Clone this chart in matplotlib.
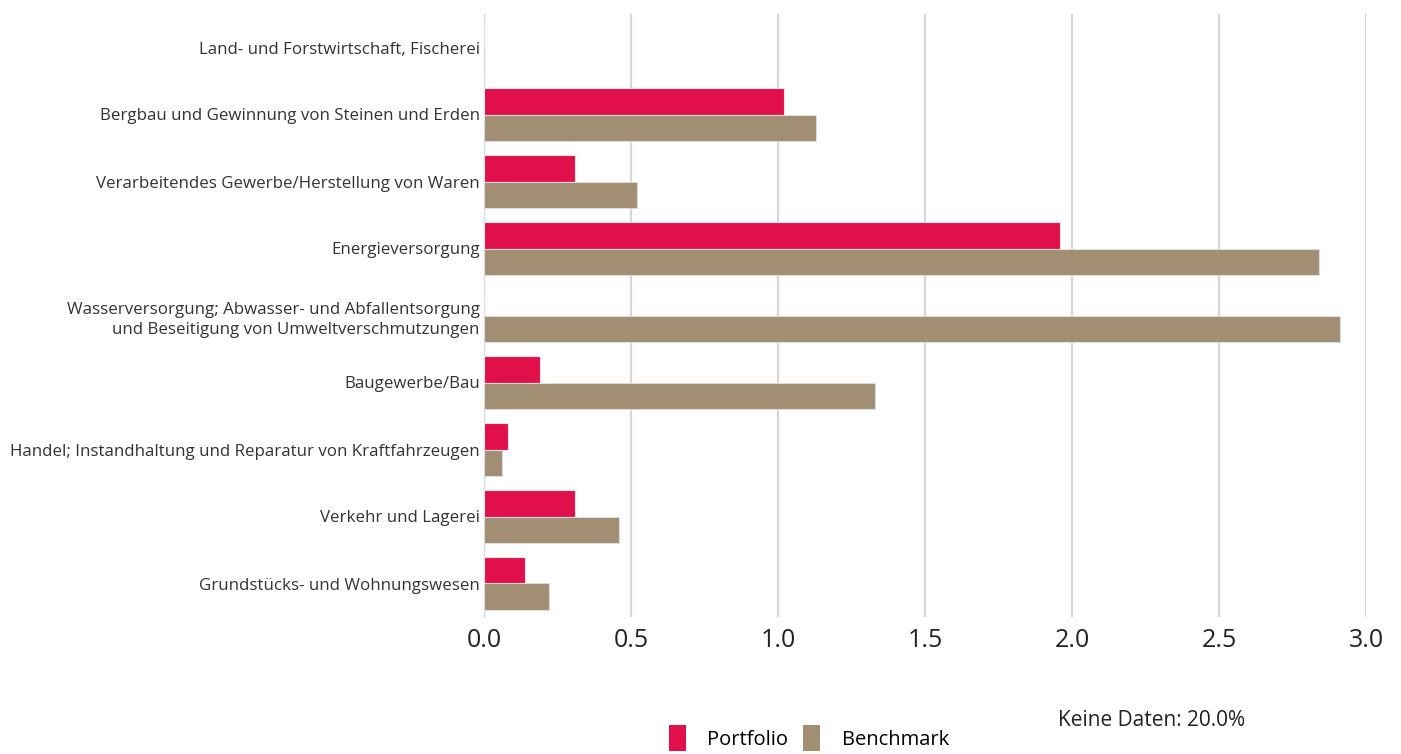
import numpy as np
import matplotlib
matplotlib.use('Agg')
import matplotlib.pyplot as plt
from matplotlib.patches import Patch

plt.rcParams['font.family'] = ['Open Sans', 'DejaVu Sans']

categories = [
    'Land- und Forstwirtschaft, Fischerei',
    'Bergbau und Gewinnung von Steinen und Erden',
    'Verarbeitendes Gewerbe/Herstellung von Waren',
    'Energieversorgung',
    'Wasserversorgung; Abwasser- und Abfallentsorgung\nund Beseitigung von Umweltverschmutzungen',
    'Baugewerbe/Bau',
    'Handel; Instandhaltung und Reparatur von Kraftfahrzeugen',
    'Verkehr und Lagerei',
    'Grundstücks- und Wohnungswesen',
]
portfolio = [0.0, 1.02, 0.31, 1.96, 0.0, 0.19, 0.08, 0.31, 0.14]
benchmark = [0.0, 1.13, 0.52, 2.84, 2.91, 1.33, 0.06, 0.46, 0.22]
xticks = [0.0, 0.5, 1.0, 1.5, 2.0, 2.5, 3.0]
no_data_text = 'Keine Daten: 20.0%'

RED = '#E2104A'
TAN = '#A28F73'

fig = plt.figure(figsize=(14.01, 7.54), dpi=100)
ax = fig.add_axes([484 / 1401, 1 - 617 / 754, (1366 - 484) / 1401, (617 - 14) / 754])

y = np.arange(len(categories))
h = 0.4
ax.barh(y - h / 2, portfolio, height=h, color=RED, edgecolor='#e6e6ea', linewidth=0.8, zorder=3)
ax.barh(y + h / 2, benchmark, height=h, color=TAN, edgecolor='#dcdce0', linewidth=0.8, zorder=3)

ax.set_xlim(0, 3.0)
ax.set_ylim(len(categories) - 0.5, -0.5)
ax.set_xticks(xticks)
ax.set_xticklabels(['%.1f' % v for v in xticks], fontsize=18, color='#222222')
ax.set_yticks(y)
ax.set_yticklabels(categories, fontsize=12.2, color='#333333', linespacing=1.4)
ax.tick_params(axis='both', length=0)
ax.tick_params(axis='x', pad=8)
ax.tick_params(axis='y', pad=3)
ax.xaxis.grid(True, color='#d6d6d6', linewidth=1.6, zorder=0)
ax.set_axisbelow(True)
for s in ['top', 'right', 'bottom']:
    ax.spines[s].set_visible(False)
ax.spines['left'].set_color('#d8dde8')
ax.spines['left'].set_linewidth(1)

handles = [Patch(facecolor=RED, edgecolor='none', label='Portfolio'),
           Patch(facecolor=TAN, edgecolor='none', label='Benchmark')]
fig.legend(handles=handles, loc='lower left', bbox_to_anchor=(669 / 1401, 0.004),
           ncol=2, frameon=False, fontsize=14.5, handlelength=0.85, handleheight=1.6,
           handletextpad=1.05, columnspacing=0.75, borderpad=0, borderaxespad=0)

fig.text(1058 / 1401, 1 - 721 / 754, no_data_text, fontsize=15, color='#222222', va='center', ha='left')

plt.savefig('out.png', dpi=100)
